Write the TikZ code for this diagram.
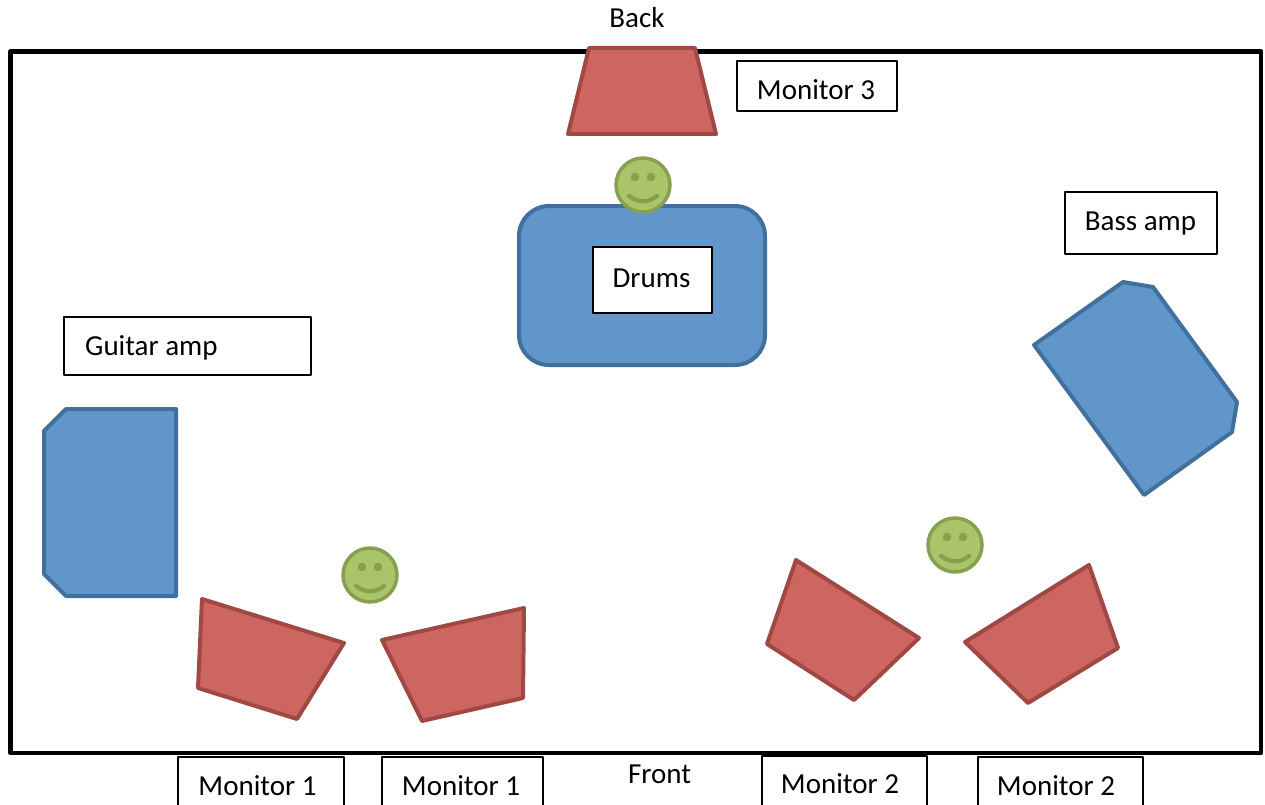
\documentclass[tikz,border=0pt]{standalone}
\usepackage{fontspec}
\setmainfont{Carlito}
\definecolor{redfill}{RGB}{205,101,96}
\definecolor{redline}{RGB}{160,72,68}
\definecolor{bluefill}{RGB}{96,150,201}
\definecolor{blueline}{RGB}{66,112,158}
\definecolor{greenfill}{RGB}{170,196,106}
\definecolor{greenline}{RGB}{135,160,80}
\begin{document}
\begin{tikzpicture}[x=1pt,y=-1pt,line join=round,
  speaker/.style={fill=redfill,draw=redline,line width=4pt},
  ampshape/.style={fill=bluefill,draw=blueline,line width=4pt},
  tagbox/.style={draw=black,fill=white,line width=1.3pt},
  txt/.style={inner sep=0pt,anchor=base,font=\fontsize{29}{35}\selectfont},
  face/.style={fill=greenfill,draw=greenline,line width=3.5pt},
  facepart/.style={fill=greenline}]
\useasboundingbox (0,0) rectangle (1265,805);
\clip (0,0) rectangle (1265,805);
\fill[white] (0,0) rectangle (1265,805);
% stage frame
\draw[line width=4.7pt,black] (10.5,51.7) rectangle (1261,753);
% smiley pic
\tikzset{smiley/.pic={
  \draw[face] (0,0) circle (27);
  \fill[facepart] (-8,-8) circle (4.3);
  \fill[facepart] (8,-8) circle (4.3);
  \draw[greenline,line width=4.2pt,line cap=round] (-14,11) .. controls (-5,18) and (5,18) .. (14,11);
}}
% top monitor
\draw[speaker] (589,48) -- (695,48) -- (716,134) -- (568,134) -- cycle;
% drums
\draw[ampshape,rounded corners=30pt] (519,206) rectangle (765,365);
\node[tagbox,minimum width=119pt,minimum height=66pt,inner sep=0pt] (drumsbox) at (652.5,280) {};
\node[txt] (drumstxt) at (651.5,287.5) {Drums};
\pic at (643,185) {smiley};
% monitor 3 box
\node[tagbox,minimum width=160pt,minimum height=50pt,inner sep=0pt] (mon3box) at (817,86) {};
\node[txt] (mon3txt) at (816,100) {Monitor 3};
\node[txt] (back) at (637,27.5) {Back};
% bass amp
\node[tagbox,minimum width=152pt,minimum height=62pt,inner sep=0pt] (bassbox) at (1141,223) {};
\node[txt] (basstxt) at (1140.5,230.5) {Bass amp};
\draw[ampshape] (1034,345) -- (1123,282) -- (1153,287) -- (1237,402) -- (1232,432) -- (1144,495) -- cycle;
% guitar amp
\node[tagbox,minimum width=247pt,minimum height=58pt,inner sep=0pt] (gtrbox) at (187.5,346) {};
\node[txt,anchor=base west] (gtrtxt) at (85,355.5) {Guitar amp};
\draw[ampshape] (44,431) -- (66,409) -- (176,409) -- (176,596) -- (66,596) -- (44,574) -- cycle;
% left musician
\pic at (370,575) {smiley};
\draw[speaker] (202,599) -- (344,643) -- (297,719) -- (198,688) -- cycle;
\draw[speaker] (382,640) -- (524,608) -- (523,698) -- (422,721) -- cycle;
% right musician
\pic at (955,545) {smiley};
\draw[speaker] (796,560) -- (919,638) -- (854,700) -- (767,644) -- cycle;
\draw[speaker] (965,642) -- (1089,565) -- (1118,648) -- (1028,703) -- cycle;
% bottom labels
\draw[line width=1.3pt] (178,810) -- (178,757) -- (344,757) -- (344,810);
\node[txt] (m1a) at (257.5,795.5) {Monitor 1};
\draw[line width=1.3pt] (382,810) -- (382,757) -- (543,757) -- (543,810);
\node[txt] (m1b) at (461,795.5) {Monitor 1};
\node[txt] (front) at (659.5,783.5) {Front};
\draw[line width=1.3pt] (762,810) -- (762,756) -- (927,756) -- (927,810);
\node[txt] (m2a) at (840,793.5) {Monitor 2};
\draw[line width=1.3pt] (978,810) -- (978,757) -- (1143,757) -- (1143,810);
\node[txt] (m2b) at (1056,795.5) {Monitor 2};
\end{tikzpicture}
\end{document}
